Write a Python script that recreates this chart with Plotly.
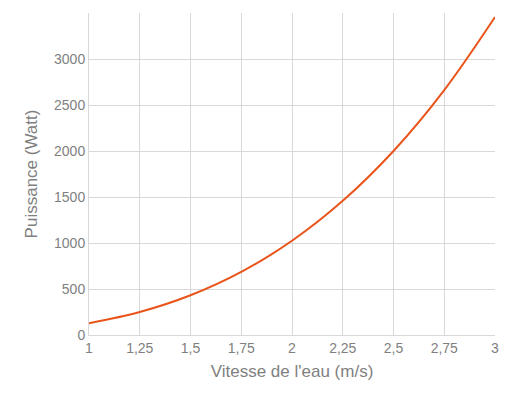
import plotly.graph_objects as go

# Vitesse (m/s) et puissance (W)
vitesse = [1, 1.25, 1.5, 1.75, 2, 2.25, 2.5, 2.75, 3]
puissance = [128, 250, 432, 686, 1024, 1458, 2000, 2662, 3456]

x_ticks = [1, 1.25, 1.5, 1.75, 2, 2.25, 2.5, 2.75, 3]
x_labels = ["1", "1,25", "1,5", "1,75", "2", "2,25", "2,5", "2,75", "3"]

grey = "#7f7f7f"

fig = go.Figure()
fig.add_trace(go.Scatter(
    x=vitesse, y=puissance, mode="lines",
    line=dict(color="#E8541A", width=2, shape="spline"),
    hoverinfo="skip"
))

fig.update_layout(
    width=514, height=402,
    margin=dict(l=81, r=27, t=5, b=75),
    plot_bgcolor="white", paper_bgcolor="white",
    showlegend=False,
    font=dict(family="Liberation Sans, Arial", size=14, color=grey),
    xaxis=dict(
        range=[1, 3], tickvals=x_ticks, ticktext=x_labels,
        showgrid=True, gridcolor="#d9d9d9", gridwidth=1,
        showline=True, linecolor="#d9d9d9", zeroline=False,
        ticks="", title=dict(text="Vitesse de l'eau (m/s)", standoff=10),
    ),
    yaxis=dict(
        range=[0, 3500], dtick=500,
        showgrid=True, gridcolor="#d9d9d9", gridwidth=1,
        showline=True, linecolor="#d9d9d9", zeroline=False,
        ticks="", title=dict(text="Puissance (Watt)", standoff=12),
    ),
)

fig.write_html("out.html")
